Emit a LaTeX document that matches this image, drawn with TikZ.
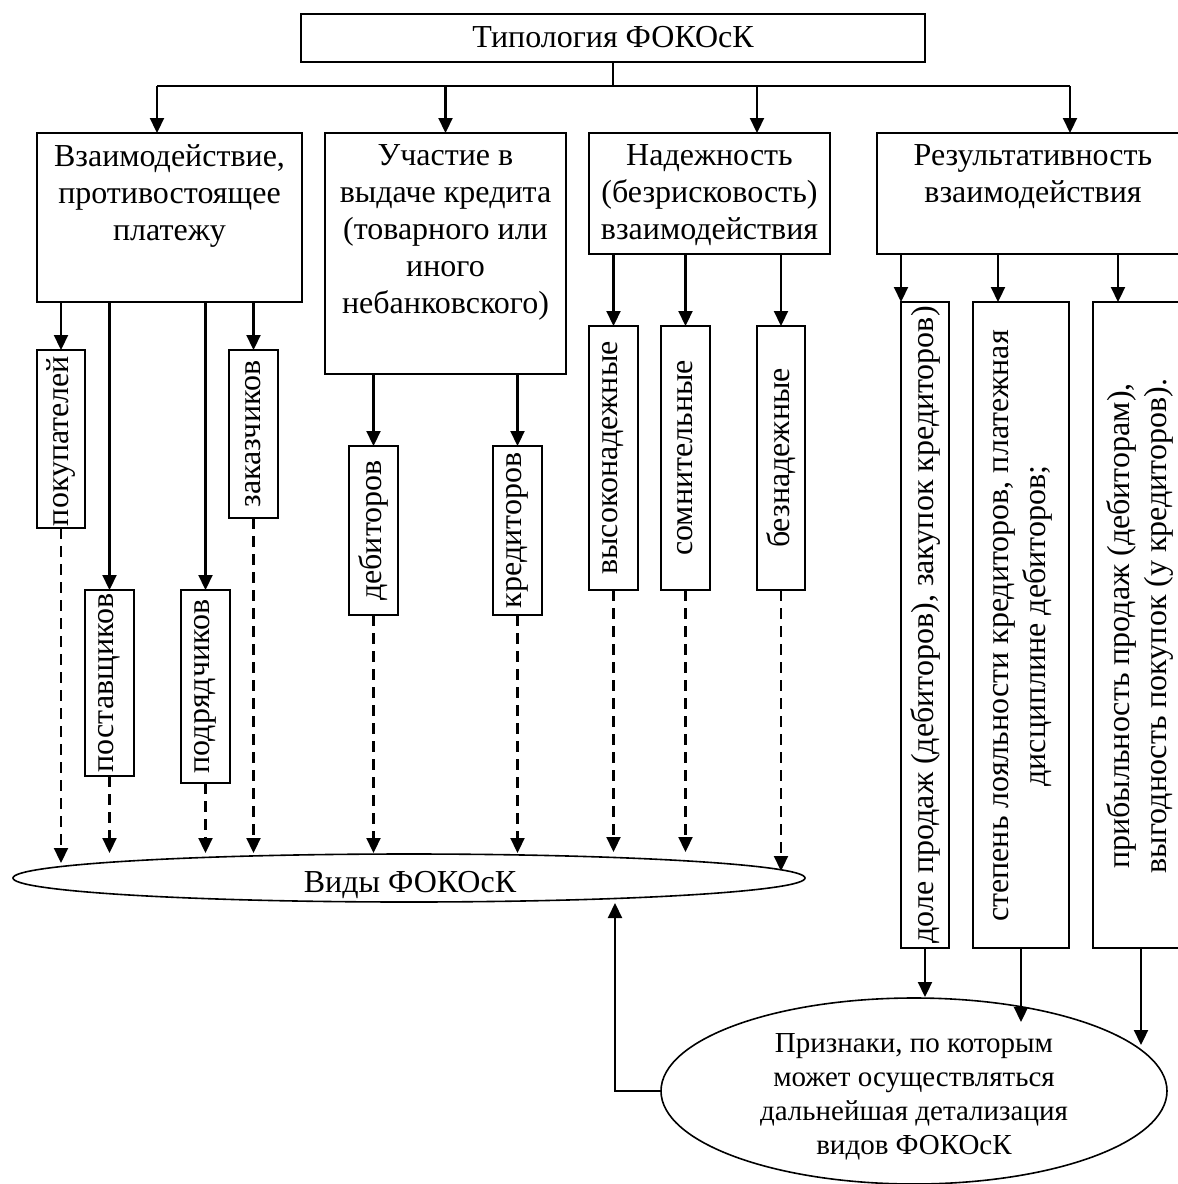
\documentclass[tikz,border=0pt]{standalone}
\usepackage{fontspec}
\setmainfont{Liberation Serif}
\usetikzlibrary{arrows.meta,shapes.geometric}

\tikzset{
  every node/.style={font=\fontsize{32}{37}\selectfont, inner sep=0pt, outer sep=0pt},
  rbox/.style={draw, rectangle, line width=2pt},
  oval/.style={draw, ellipse, line width=1.6pt},
  vtext/.style={rotate=90, align=center},
  ptext/.style={align=center, font=\fontsize{29}{34}\selectfont},
  arr/.style={line width=2.2pt, -{Triangle[length=15pt,width=14pt]}},
  darr/.style={arr, dash pattern=on 11pt off 7pt},
  plain/.style={line width=2.2pt}
}

\begin{document}
\begin{tikzpicture}[x=1pt,y=-1pt]
\clip (0,0) rectangle (1178,1184);

% root
\node[rbox, minimum width=624, minimum height=48] (top) at (613,38) {};
\node[anchor=base] (toptext) at (613,47) {Типология ФОКОсК};

% first level
\node[rbox, minimum width=265, minimum height=169] (b1) at (169.5,217.5) {};
\node[anchor=north, align=center] (b1t) at (169.5,145) {Взаимодействие,\\противостоящее\\платежу};
\node[rbox, minimum width=241, minimum height=241] (b2) at (445.5,253.5) {};
\node[anchor=north, align=center] (b2t) at (445.5,145) {Участие в\\выдаче кредита\\(товарного или\\иного\\небанковского)};
\node[rbox, minimum width=241, minimum height=121] (b3) at (709.5,193.5) {};
\node[anchor=north, align=center] (b3t) at (709.5,145) {Надежность\\(безрисковость)\\взаимодействия};
\node[rbox, minimum width=312, minimum height=121] (b4) at (1033,193.5) {};
\node[anchor=north, align=center] (b4t) at (1033,145) {Результативность\\взаимодействия};

% bus from the root
\coordinate (stem) at (613,86);
\coordinate (busL) at (157,86);
\coordinate (busR) at (1070,86);
\coordinate (bus3) at (757,86);
\draw[plain] (top.south -| stem) -- (stem);
\draw[plain] (busL) -- (busR);
\draw[arr] (busL) -- (b1.north -| busL);
\draw[arr] (b2.north |- busL) -- (b2.north);
\draw[arr] (bus3) -- (b3.north -| bus3);
\draw[arr] (busR) -- (b4.north -| busR);

% second level: payment counterparts
\node[rbox, minimum width=48, minimum height=178] (c11) at (61,439) {};
\node[vtext] (c11t) at (61,441) {покупателей};
\node[rbox, minimum width=49, minimum height=186] (c12) at (109.5,683) {};
\node[vtext] (c12t) at (c12) {поставщиков};
\node[rbox, minimum width=49, minimum height=193] (c13) at (205.5,686.5) {};
\node[vtext] (c13t) at (c13) {подрядчиков};
\node[rbox, minimum width=49, minimum height=168] (c14) at (253.5,434) {};
\node[vtext] (c14t) at (c14) {заказчиков};

% second level: credit
\node[rbox, minimum width=49, minimum height=169] (c21) at (373.5,530.5) {};
\node[vtext] (c21t) at (c21) {дебиторов};
\node[rbox, minimum width=49, minimum height=169] (c22) at (517.5,530.5) {};
\node[vtext] (c22t) at (c22) {кредиторов};

% second level: reliability
\node[rbox, minimum width=49, minimum height=264] (c31) at (613.5,458) {};
\node[vtext] (c31t) at (c31) {высоконадежные};
\node[rbox, minimum width=49, minimum height=264] (c32) at (685.5,458) {};
\node[vtext] (c32t) at (c32) {сомнительные};
\node[rbox, minimum width=48, minimum height=264] (c33) at (781,458) {};
\node[vtext] (c33t) at (c33) {безнадежные};

% second level: effectiveness
\node[rbox, minimum width=48, minimum height=646] (c41) at (925,625) {};
\node[vtext] (c41t) at (c41) {доле продаж (дебиторов), закупок кредиторов)};
\node[rbox, minimum width=96, minimum height=646] (c42) at (1021,625) {};
\node[vtext] (c42t) at (1023,626) {степень лояльности кредиторов, платежная\\дисциплине дебиторов;};
\node[rbox, minimum width=96, minimum height=646] (c43) at (1141,625) {};
\node[vtext] (c43t) at (1140,626) {прибыльность продаж (дебиторам),\\выгодность покупок (у кредиторов).};

% arrows into the second level
\draw[arr] (b1.south -| c11) -- (c11.north);
\draw[arr] (b1.south -| c12) -- (c12.north);
\draw[arr] (b1.south -| c13) -- (c13.north);
\draw[arr] (b1.south -| c14) -- (c14.north);
\draw[arr] (b2.south -| c21) -- (c21.north);
\draw[arr] (b2.south -| c22) -- (c22.north);
\draw[arr] (b3.south -| c31) -- (c31.north);
\draw[arr] (b3.south -| c32) -- (c32.north);
\draw[arr] (b3.south -| c33) -- (c33.north);
\draw[arr] (b4.south -| c41.north west) -- (c41.north west);
\draw[arr] ([xshift=-23pt]c42.north |- b4.south) -- ([xshift=-23pt]c42.north);
\draw[arr] ([xshift=-23pt]c43.north |- b4.south) -- ([xshift=-23pt]c43.north);

% kinds
\node[oval, minimum width=792, minimum height=48] (vid) at (409,878) {};
\node[anchor=base] (vidt) at (410,892) {Виды ФОКОсК};

\coordinate (e11) at (61,863);
\coordinate (e12) at (109.5,853);
\coordinate (e13) at (205.5,853);
\coordinate (e14) at (253.5,853);
\coordinate (e21) at (373.5,853);
\coordinate (e22) at (517.5,853);
\coordinate (e31) at (613.5,852);
\coordinate (e32) at (685.5,852);
\coordinate (e33) at (781,871);
\draw[darr] (c11.south) -- (e11);
\draw[darr] (c12.south) -- (e12);
\draw[darr] (c13.south) -- (e13);
\draw[darr] (c14.south) -- (e14);
\draw[darr] (c21.south) -- (e21);
\draw[darr] (c22.south) -- (e22);
\draw[darr] (c31.south) -- (e31);
\draw[darr] (c32.south) -- (e32);
\draw[darr] (c33.south) -- (e33);

% features for further detailing
\node[oval, minimum width=506, minimum height=186] (feat) at (914,1091) {};
\node[ptext] (featt) at (914,1097) {Признаки, по которым\\может осуществляться\\дальнейшая детализация\\видов ФОКОсК};

\coordinate (f1) at (925,997);
\coordinate (f2) at (1021,1022);
\coordinate (f3) at (1141,1045);
\draw[arr] (c41.south) -- (f1);
\draw[arr] (c42.south) -- (f2);
\draw[arr] (c43.south) -- (f3);

\coordinate (up) at (615,903);
\draw[arr] (feat.west) -| (up);
\end{tikzpicture}
\end{document}
